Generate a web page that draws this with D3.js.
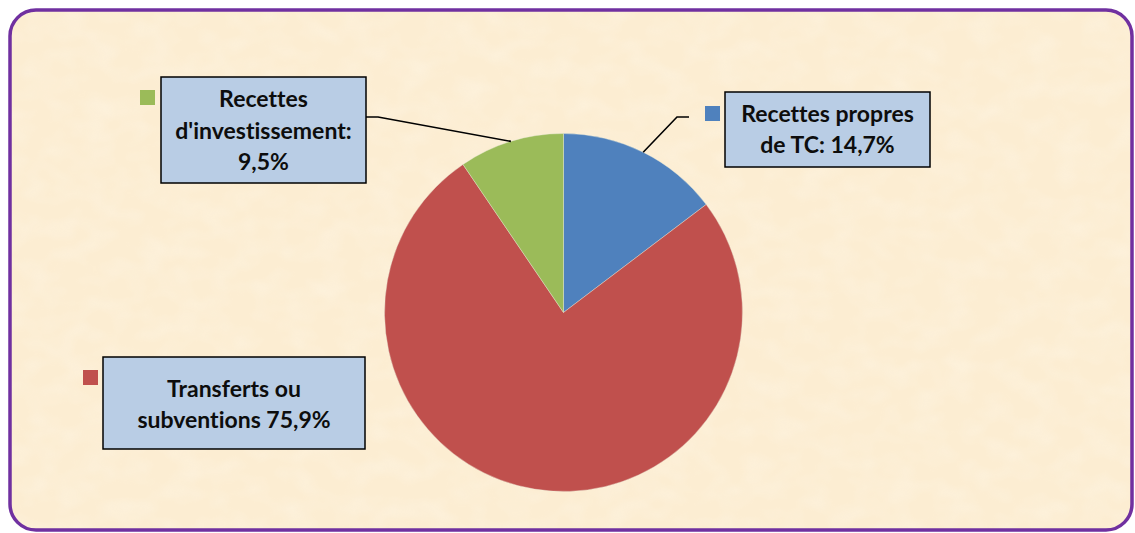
<!DOCTYPE html>
<html>
<head>
<meta charset="utf-8">
<script src="https://cdn.jsdelivr.net/npm/d3@7"></script>
<style>
  html, body { margin: 0; padding: 0; background: #ffffff; }
  #chart svg { display: block; }
  .lbl { font-family: Lato, "Open Sans", sans-serif; font-weight: bold; fill: #0d0d0d; font-variant-ligatures: none; }
</style>
</head>
<body>
<div id="chart"></div>
<script>
// data
const categories = ["Recettes propres de TC", "Transferts ou subventions", "Recettes d'investissement"];
const values = [14.7, 75.9, 9.5];
const colors = ["#4f81bd", "#c0504d", "#9bbb59"];
const label_lines = [
  ["Recettes propres", "de TC: 14,7%"],
  ["Transferts ou", "subventions 75,9%"],
  ["Recettes", "d'investissement:", "9,5%"]
];

// label boxes (layout only)
const boxes = [
  {x: 725, y: 92, w: 205, h: 75, first: 121.5, marker: [705, 106], elbow: [677, 117], end: [689, 117]},
  {x: 103, y: 357, w: 262, h: 92, first: 396.5, marker: [83, 370], elbow: null, end: null},
  {x: 161, y: 77, w: 205, h: 106, first: 107, marker: [140, 90], elbow: [378, 117], end: [366, 117]}
];

const __CONFIG__ = {
  width: 1135,
  height: 533,
  cx: 563.5,
  cy: 312.5,
  r: 179,
  line_h: 31.5,
  font_size: 23
}

function draw(config=__CONFIG__) {
  const svg = d3.select("#chart").append("svg")
    .attr("width", config.width)
    .attr("height", config.height);

  const defs = svg.append("defs");
  const f = defs.append("filter").attr("id", "paper")
    .attr("x", 0).attr("y", 0).attr("width", "100%").attr("height", "100%");
  f.append("feTurbulence")
    .attr("type", "fractalNoise")
    .attr("baseFrequency", "0.035 0.05")
    .attr("numOctaves", 2)
    .attr("seed", 3);
  f.append("feColorMatrix")
    .attr("type", "matrix")
    .attr("values", "0 0 0 0 1  0 0 0 0 0.97  0 0 0 0 0.9  0 0 0 -1.6 1.0");

  // frame
  const frame = {x: 10, y: 10, width: 1122, height: 520, rx: 26};
  svg.append("rect")
    .attr("x", frame.x).attr("y", frame.y)
    .attr("width", frame.width).attr("height", frame.height)
    .attr("rx", frame.rx)
    .attr("fill", "#fcedd2");
  svg.append("rect")
    .attr("x", frame.x).attr("y", frame.y)
    .attr("width", frame.width).attr("height", frame.height)
    .attr("rx", frame.rx)
    .attr("fill", "#fff")
    .attr("opacity", 0.3)
    .attr("filter", "url(#paper)");
  svg.append("rect")
    .attr("x", frame.x).attr("y", frame.y)
    .attr("width", frame.width).attr("height", frame.height)
    .attr("rx", frame.rx)
    .attr("fill", "none")
    .attr("stroke", "#7030a0")
    .attr("stroke-width", 3.5);

  // pie
  const pie = d3.pie().sort(null).value(d => d);
  const arcs = pie(values);
  const arc = d3.arc().innerRadius(0).outerRadius(config.r);
  const edge = d3.arc().innerRadius(config.r).outerRadius(config.r);

  const g = svg.append("g")
    .attr("transform", `translate(${config.cx},${config.cy})`);
  g.selectAll("path.slice")
    .data(arcs)
    .join("path")
    .classed("slice", true)
    .attr("d", arc)
    .attr("fill", (d, i) => colors[i])
    .attr("stroke", "#e8ecd8")
    .attr("stroke-width", 0.4);

  // leader lines
  arcs.forEach((d, i) => {
    const b = boxes[i];
    if (!b.elbow) return;
    const [px, py] = edge.centroid(d);
    svg.append("polyline")
      .attr("points", [[px + config.cx, py + config.cy], b.elbow, b.end].map(p => p.join(",")).join(" "))
      .attr("fill", "none")
      .attr("stroke", "#000")
      .attr("stroke-width", 1.6);
  });

  // label boxes
  const lab = svg.selectAll("g.label")
    .data(categories)
    .join("g")
    .classed("label", true);

  lab.append("rect")
    .attr("x", (d, i) => boxes[i].marker[0])
    .attr("y", (d, i) => boxes[i].marker[1])
    .attr("width", 15).attr("height", 15)
    .attr("fill", (d, i) => colors[i]);

  lab.append("rect")
    .attr("x", (d, i) => boxes[i].x)
    .attr("y", (d, i) => boxes[i].y)
    .attr("width", (d, i) => boxes[i].w)
    .attr("height", (d, i) => boxes[i].h)
    .attr("fill", "#b9cde5")
    .attr("stroke", "#000")
    .attr("stroke-width", 1.5);

  lab.each(function(d, i) {
    const b = boxes[i];
    d3.select(this).selectAll("text")
      .data(label_lines[i])
      .join("text")
      .classed("lbl", true)
      .attr("x", b.x + b.w / 2)
      .attr("y", (t, j) => b.first + j * config.line_h)
      .attr("text-anchor", "middle")
      .style("font-size", `${config.font_size}px`)
      .text(t => t);
  });
}

draw();
</script>
</body>
</html>
